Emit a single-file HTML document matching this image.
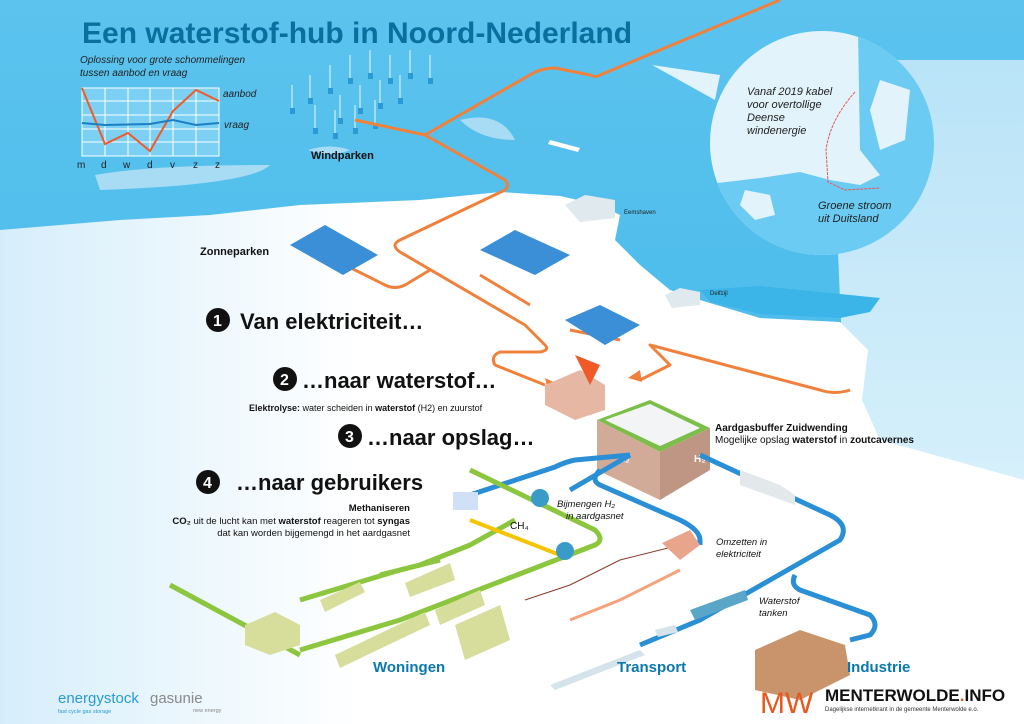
<!DOCTYPE html>
<html><head><meta charset="utf-8"><style>
html,body{margin:0;padding:0;width:1024px;height:724px;overflow:hidden;background:#fff}
svg{display:block}
text{font-family:"Liberation Sans",sans-serif}
</style></head><body>
<svg width="1024" height="724" viewBox="0 0 1024 724" xmlns="http://www.w3.org/2000/svg">
<defs>
<linearGradient id="sea" x1="0" y1="0" x2="0" y2="1"><stop offset="0" stop-color="#5cc3ee"/><stop offset="1" stop-color="#3bb5e8"/></linearGradient>
<linearGradient id="land" x1="0" y1="0" x2="1" y2="0"><stop offset="0" stop-color="#d6eefb"/><stop offset="0.35" stop-color="#fff"/><stop offset="1" stop-color="#fff"/></linearGradient>
<linearGradient id="rgt" x1="0" y1="0" x2="0" y2="1"><stop offset="0" stop-color="#b9e3f7"/><stop offset="0.6" stop-color="#d4effb"/><stop offset="1" stop-color="#fff"/></linearGradient>
<clipPath id="cc"><circle cx="822" cy="143" r="112"/></clipPath>
</defs>
<rect width="1024" height="724" fill="url(#sea)"/>
<!-- right lighter area -->
<path d="M830 60 L1024 60 L1024 724 L860 724 L840 300 Z" fill="url(#rgt)"/>
<!-- land -->
<path d="M0 230 L120 220 L210 215 L300 205 L420 200 L500 192 L560 196 L600 205 L620 215 L615 240 L640 265 L670 290 L700 300 L760 318 L840 322 L868 350 L862 400 L880 440 L1024 480 L1024 724 L0 724 Z" fill="url(#land)"/>
<path d="M700 290 L760 286 L880 298 L870 312 L840 318 L760 314 L710 302 Z" fill="#3bb5e8"/>
<!-- islands -->
<path d="M95 175 Q150 165 270 165 Q250 185 100 190 Z" fill="#a8dcf4"/>
<path d="M460 120 Q500 110 515 140 Q480 140 460 120Z" fill="#a8dcf4"/>
<path d="M308 150 Q330 143 350 150 Q330 158 308 150Z" fill="#a8dcf4"/>
<!-- circle -->
<path d="M652 65 L720 75 L715 100 Z" fill="#e2f3fc"/>
<circle cx="822" cy="143" r="112" fill="#e2f3fc"/>
<g clip-path="url(#cc)" fill="#6ccbf2">
<path d="M700 185 L760 178 L800 172 L830 180 L860 185 L880 175 L860 150 L858 30 L950 30 L950 260 L700 260 Z"/>
<path d="M880 80 L910 90 L905 140 L880 150 L870 110Z" fill="#e2f3fc"/>
<path d="M745 190 L770 195 L775 215 L755 220 L740 205Z" fill="#e2f3fc"/>
</g>
<path d="M855 92 Q830 120 826 150 L828 182 L845 190 L880 188" fill="none" stroke="#e85555" stroke-width="1" stroke-dasharray="3,1"/>
<text x="747" y="95" font-size="11" font-style="italic" fill="#222">Vanaf 2019 kabel</text>
<text x="747" y="108" font-size="11" font-style="italic" fill="#222">voor overtollige</text>
<text x="747" y="121" font-size="11" font-style="italic" fill="#222">Deense</text>
<text x="747" y="134" font-size="11" font-style="italic" fill="#222">windenergie</text>
<text x="818" y="209" font-size="11" font-style="italic" fill="#222">Groene stroom</text>
<text x="818" y="222" font-size="11" font-style="italic" fill="#222">uit Duitsland</text>
<!-- title -->
<text x="82" y="43" font-size="30" font-weight="bold" fill="#0a6e9e">Een waterstof-hub in Noord-Nederland</text>
<text x="80" y="63" font-size="10" font-style="italic" fill="#222">Oplossing voor grote schommelingen</text>
<text x="80" y="76" font-size="10" font-style="italic" fill="#222">tussen aanbod en vraag</text>
<!-- chart -->
<g stroke="#fff" stroke-width="1">
<rect x="82" y="88" width="137" height="68" fill="#7bd0f3"/>
<line x1="105" y1="88" x2="105" y2="156"/><line x1="128" y1="88" x2="128" y2="156"/><line x1="150" y1="88" x2="150" y2="156"/><line x1="173" y1="88" x2="173" y2="156"/><line x1="196" y1="88" x2="196" y2="156"/>
<line x1="82" y1="101" x2="219" y2="101"/><line x1="82" y1="115" x2="219" y2="115"/><line x1="82" y1="129" x2="219" y2="129"/><line x1="82" y1="142" x2="219" y2="142"/>
</g>
<polyline points="82,88 105,144 128,133 150,151 173,111 196,90 219,101" fill="none" stroke="#f05a28" stroke-width="2"/>
<polyline points="82,123 105,125 150,124 173,120 196,125 219,123" fill="none" stroke="#1a7fc4" stroke-width="2"/>
<text x="223" y="97" font-size="10" font-style="italic" fill="#222">aanbod</text>
<text x="224" y="128" font-size="10" font-style="italic" fill="#222">vraag</text>
<g font-size="10" fill="#222"><text x="77" y="168">m</text><text x="101" y="168">d</text><text x="123" y="168">w</text><text x="147" y="168">d</text><text x="170" y="168">v</text><text x="193" y="168">z</text><text x="215" y="168">z</text></g>
<!-- wind turbines -->
<g stroke="#e8f6fd" stroke-width="1">
<path d="M292 85v25M310 75v25M330 65v25M350 55v25M370 50v25M390 55v25M410 50v25M430 55v25M315 105v25M340 95v25M360 85v25M380 80v25M400 75v25M335 110v25M355 105v25M375 100v25"/>
</g>
<g fill="#2a9ad6">
<rect x="290" y="108" width="5" height="6"/><rect x="308" y="98" width="5" height="6"/><rect x="328" y="88" width="5" height="6"/><rect x="348" y="78" width="5" height="6"/><rect x="368" y="73" width="5" height="6"/><rect x="388" y="78" width="5" height="6"/><rect x="408" y="73" width="5" height="6"/><rect x="428" y="78" width="5" height="6"/><rect x="313" y="128" width="5" height="6"/><rect x="338" y="118" width="5" height="6"/><rect x="358" y="108" width="5" height="6"/><rect x="378" y="103" width="5" height="6"/><rect x="398" y="98" width="5" height="6"/><rect x="333" y="133" width="5" height="6"/><rect x="353" y="128" width="5" height="6"/><rect x="373" y="123" width="5" height="6"/>
</g>
<text x="311" y="159" font-size="11" font-weight="bold" fill="#111">Windparken</text>
<!-- ship -->
<path d="M550 140 L580 148 L578 152 L548 144Z" fill="#fff"/>
<!-- orange lines -->
<g fill="none" stroke="#f0813c" stroke-width="3" stroke-linejoin="round">
<path d="M780 0 L600 75 Q595 78 590 75 L555 68 Q545 68 535 72 L425 135 L505 180 Q510 185 505 190 L400 240 Q390 245 400 252 L525 325 L545 345 Q550 350 540 352 L500 352 Q490 356 495 365 L545 385"/>
<path d="M355 120 L425 135"/>
<path d="M345 265 L385 285 Q395 290 405 285 L430 270"/>
<path d="M480 275 L530 305"/>
<path d="M570 330 L620 340"/>
<path d="M640 380 L670 365 L650 345 L820 390 Q835 395 850 390"/>
</g>
<path d="M545 378 L560 385 L548 390Z" fill="#f0813c"/>
<path d="M640 370 L628 378 L642 382Z" fill="#f0813c"/>
<!-- solar parks -->
<g fill="#3b8fd6">
<path d="M290 245 L325 225 L378 255 L343 275Z"/>
<path d="M480 250 L515 230 L570 255 L535 275Z"/>
<path d="M565 320 L600 305 L640 325 L605 345Z"/>
</g>
<text x="200" y="255" font-size="11" font-weight="bold" fill="#111">Zonneparken</text>
<!-- Eemshaven, Delfzijl -->
<path d="M565 205 L585 195 L615 200 L615 218 L580 222 Z" fill="#dfe9ee"/>
<text x="624" y="214" font-size="6" fill="#222">Eemshaven</text>
<path d="M665 295 L680 288 L700 292 L700 305 L672 308Z" fill="#dfe9ee"/>
<text x="710" y="295" font-size="6" fill="#222">Delfzijl</text>
<!-- numbered heads -->
<g font-weight="bold" fill="#111">
<circle cx="218" cy="320" r="12"/><text x="213" y="326" font-size="16" fill="#fff">1</text>
<text x="240" y="329" font-size="22">Van elektriciteit…</text>
<circle cx="285" cy="379" r="12"/><text x="280" y="385" font-size="16" fill="#fff">2</text>
<text x="302" y="388" font-size="22">…naar waterstof…</text>
<circle cx="350" cy="436" r="12"/><text x="345" y="442" font-size="16" fill="#fff">3</text>
<text x="367" y="445" font-size="22">…naar opslag…</text>
<circle cx="208" cy="482" r="12"/><text x="203" y="488" font-size="16" fill="#fff">4</text>
<text x="236" y="490" font-size="22">…naar gebruikers</text>
</g>
<text x="249" y="411" font-size="9" fill="#111"><tspan font-weight="bold">Elektrolyse:</tspan> water scheiden in <tspan font-weight="bold">waterstof</tspan> (H2) en zuurstof</text>
<text x="410" y="511" font-size="9.5" font-weight="bold" fill="#111" text-anchor="end">Methaniseren</text>
<text x="410" y="524" font-size="9.5" fill="#111" text-anchor="end"><tspan font-weight="bold">CO₂</tspan> uit de lucht kan met <tspan font-weight="bold">waterstof</tspan> reageren tot <tspan font-weight="bold">syngas</tspan></text>
<text x="410" y="536" font-size="9.5" fill="#111" text-anchor="end">dat kan worden bijgemengd in het aardgasnet</text>
<!-- electrolyser -->
<path d="M545 385 L580 370 L605 385 L605 410 L575 420 L545 405Z" fill="#e6b8a4"/>
<path d="M575 355 L590 385 L600 365Z" fill="#f05a28"/>
<!-- storage block -->
<path d="M597 420 L650 400 L710 428 L660 452 Z" fill="#7bbf4a"/>
<path d="M605 420 L650 404 L700 428 L660 446Z" fill="#f2f4f6"/>
<path d="M597 420 L660 452 L660 500 L597 470Z" fill="#d2aa98"/>
<path d="M660 452 L710 428 L710 470 L660 500Z" fill="#bf9583"/>
<text x="715" y="431" font-size="10" font-weight="bold" fill="#111">Aardgasbuffer Zuidwending</text>
<text x="715" y="443" font-size="10" fill="#111">Mogelijke opslag <tspan font-weight="bold">waterstof</tspan> in <tspan font-weight="bold">zoutcavernes</tspan></text>
<text x="618" y="462" font-size="10" font-weight="bold" fill="#fff">H₂</text>
<text x="694" y="462" font-size="10" font-weight="bold" fill="#fff">H₂</text>
<!-- blue pipes -->
<g fill="none" stroke="#2b8fd6" stroke-width="5" stroke-linejoin="round">
<path d="M630 455 L575 460 Q565 462 555 467 L470 495"/>
<path d="M630 455 L570 490"/>
<path d="M600 470 Q590 480 600 485 L680 520 Q700 530 700 540 L700 545"/>
<path d="M700 455 L830 515 Q850 525 840 540 L770 580 L700 620 L640 645"/>
<path d="M795 575 Q790 585 800 590 L870 615 Q880 625 870 635 L850 640"/>
</g>
<!-- truck -->
<path d="M740 470 L780 485 L795 495 L795 505 L740 485 Z" fill="#e3e8ea"/>
<!-- green pipes -->
<g fill="none" stroke="#8cc63f" stroke-width="5" stroke-linejoin="round">
<path d="M470 470 L595 530 Q605 540 595 545 L400 620 L300 650"/>
<path d="M515 520 L470 545 L420 565 L380 575"/>
<path d="M300 600 L400 570 L440 560"/>
<path d="M170 585 L300 655"/>
</g>
<path d="M470 520 L560 555" stroke="#f5c400" stroke-width="4"/>
<text x="510" y="529" font-size="10" fill="#111">CH₄</text>
<circle cx="540" cy="498" r="9" fill="#3a9bc9"/>
<circle cx="565" cy="551" r="9" fill="#3a9bc9"/>
<rect x="453" y="492" width="25" height="18" fill="#cfe0f7"/>
<text x="557" y="507" font-size="9.5" font-style="italic" fill="#111">Bijmengen  H₂</text>
<text x="566" y="519" font-size="9.5" font-style="italic" fill="#111">in aardgasnet</text>
<text x="716" y="545" font-size="9.5" font-style="italic" fill="#111">Omzetten in</text>
<text x="716" y="557" font-size="9.5" font-style="italic" fill="#111">elektriciteit</text>
<text x="759" y="604" font-size="9.5" font-style="italic" fill="#111">Waterstof</text>
<text x="759" y="616" font-size="9.5" font-style="italic" fill="#111">tanken</text>
<!-- power lines -->
<path d="M525 600 L570 585 L620 560 L680 545" fill="none" stroke="#8b3a2a" stroke-width="1"/>
<path d="M570 620 L620 600 L680 570" fill="none" stroke="#f4a37c" stroke-width="3"/>
<path d="M662 543 L690 530 L700 545 L680 560Z" fill="#e9a58b"/>
<!-- buildings -->
<g fill="#d7dd9a">
<path d="M245 625 L275 612 L300 625 L300 645 L270 655 L245 645Z"/>
<path d="M320 600 L360 582 L365 592 L325 612Z"/>
<path d="M405 583 L450 563 L455 580 L410 597Z"/>
<path d="M335 655 L425 612 L430 625 L340 668Z"/>
<path d="M435 610 L480 590 L485 605 L440 625Z"/>
<path d="M455 625 L500 605 L510 640 L465 660Z"/>
</g>
<!-- transport -->
<path d="M550 685 L640 650 L645 655 L555 690Z" fill="#d5e3ea"/>
<path d="M690 610 L745 590 L748 600 L695 620Z" fill="#5aa6c8"/>
<path d="M655 630 L675 625 L678 632 L658 637Z" fill="#d5e3ea"/>
<!-- industry -->
<path d="M755 650 L800 630 L845 645 L850 675 L800 700 L755 690Z" fill="#c9946b"/>
<text x="373" y="672" font-size="15" font-weight="bold" fill="#0a78ae">Woningen</text>
<text x="617" y="672" font-size="15" font-weight="bold" fill="#0a78ae">Transport</text>
<text x="847" y="672" font-size="15" font-weight="bold" fill="#0a78ae">Industrie</text>
<!-- logos -->
<text x="58" y="703" font-size="15" fill="#2a9ad6">energystock</text>
<text x="150" y="703" font-size="15" fill="#8a8a8a">gasunie</text>
<text x="58" y="713" font-size="5.5" fill="#2a9ad6">fast cycle gas storage</text>
<text x="193" y="712" font-size="5.5" fill="#888">new energy</text>
<text x="760" y="713" font-size="30" font-family="Liberation Serif" fill="#e8571e">MW</text>
<text x="825" y="701" font-size="17" font-weight="bold" fill="#111">MENTERWOLDE<tspan fill="#e8571e">.</tspan>INFO</text>
<text x="825" y="711" font-size="6" font-family="Liberation Serif" fill="#333">Dagelijkse internetkrant in de gemeente Menterwolde e.o.</text>
</svg>
</body></html>
